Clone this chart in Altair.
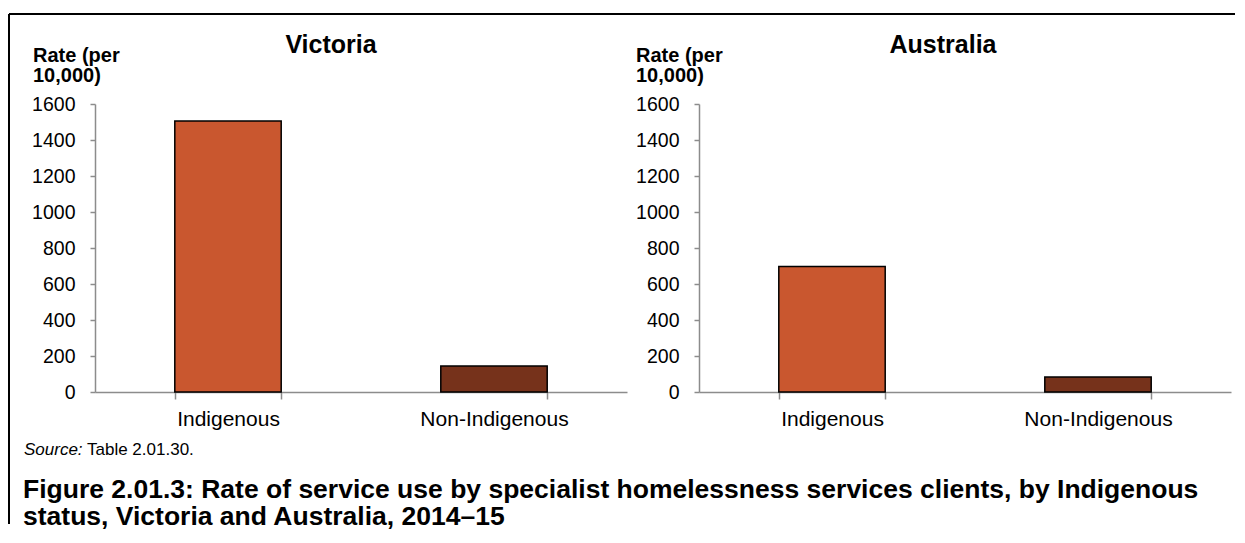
import altair as alt
import pandas as pd

categories = ["Indigenous", "Non-Indigenous"]
victoria_rates = [1505, 145]
australia_rates = [697, 84]
panel_titles = ["Victoria", "Australia"]
y_ticks = [0, 200, 400, 600, 800, 1000, 1200, 1400, 1600]
bar_colors = ["#C9572F", "#76321B"]
y_title = "Rate (per\n10,000)"
source_label = "Source:"
source_text = "Table 2.01.30."
caption = ("Figure 2.01.3: Rate of service use by specialist homelessness services clients, by Indigenous\n"
           "status, Victoria and Australia, 2014\u201315")

FONT = "Liberation Sans"
AXIS_GREY = "#8C8C8C"
W, H = 532, 288


def text_layer(txt, x, y, size, weight="normal", style="normal", align="left", line_height=None):
    props = dict(font=FONT, fontSize=size, fontWeight=weight, fontStyle=style,
                 align=align, baseline="alphabetic", color="black", lineBreak="\n")
    if line_height:
        props["lineHeight"] = line_height
    return alt.Chart(pd.DataFrame({"t": [txt]})).mark_text(**props).encode(
        text="t:N", x=alt.value(x), y=alt.value(y))


def panel(rates, title, title_x, ytitle_x, extras=False):
    df = pd.DataFrame({"category": categories, "rate": rates})
    bars = alt.Chart(df).mark_bar(stroke="black", strokeWidth=1.5).encode(
        x=alt.X("category:N", sort=categories,
                scale=alt.Scale(paddingInner=0.6, paddingOuter=0.3),
                axis=alt.Axis(title=None, labelAngle=0, tickBand="extent", tickSize=7,
                              labelPadding=9, labelFontSize=21, labelFont=FONT,
                              labelColor="black", domainColor=AXIS_GREY, tickColor=AXIS_GREY,
                              domainWidth=1.5, tickWidth=1.5, grid=False)),
        y=alt.Y("rate:Q", scale=alt.Scale(domain=[0, 1600], nice=False),
                axis=alt.Axis(title=None, values=y_ticks, format="d", tickSize=5,
                              labelPadding=15, labelFontSize=19.5, labelFont=FONT,
                              labelColor="black", domainColor=AXIS_GREY, tickColor=AXIS_GREY,
                              domainWidth=1.5, tickWidth=1.5, grid=False)),
        color=alt.Color("category:N", scale=alt.Scale(domain=categories, range=bar_colors),
                        legend=None),
    )
    layers = [bars,
              text_layer(title, title_x, -51, 25, weight="bold", align="center"),
              text_layer(y_title, ytitle_x, -42, 20, weight="bold", line_height=20)]
    if extras:
        one = pd.DataFrame({"a": [0]})
        left_border = alt.Chart(one).mark_rule(color="black", strokeWidth=2).encode(
            x=alt.value(-86), y=alt.value(-90), y2=alt.value(420))
        top_border = alt.Chart(one).mark_rule(color="black", strokeWidth=2).encode(
            x=alt.value(-86), x2=alt.value(1140), y=alt.value(-90))
        layers += [left_border, top_border,
                   text_layer(source_label, -71, 351, 17, style="italic"),
                   text_layer(source_text, -8, 351, 17),
                   text_layer(caption, -72, 394, 26.5, weight="bold", line_height=27)]
    return alt.layer(*layers).properties(width=W, height=H)


vic = panel(victoria_rates, panel_titles[0], 236, -62, extras=True)
aus = panel(australia_rates, panel_titles[1], 244, -63)

chart = alt.hconcat(vic, aus, spacing=72, bounds="flush").properties(
    padding={"left": 0, "top": 5, "right": 0, "bottom": 0}
).configure_view(strokeWidth=0).resolve_scale(color="independent")

chart.save("out.html", embed_options={"renderer": "svg", "actions": False})
